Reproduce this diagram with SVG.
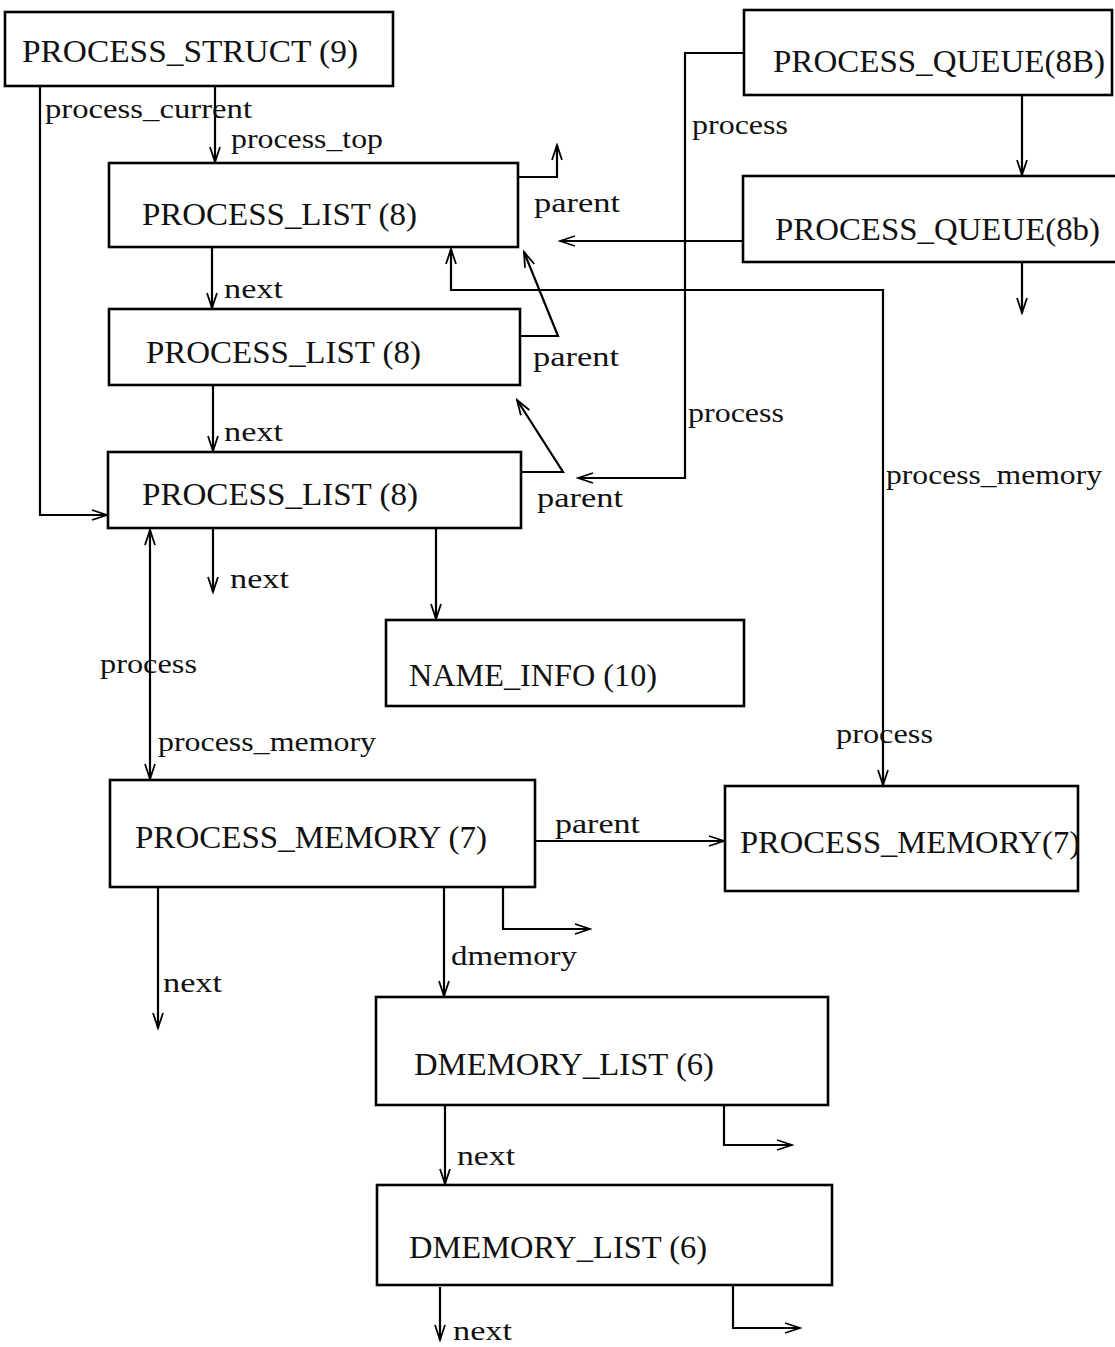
<svg xmlns="http://www.w3.org/2000/svg" width="1115" height="1347" viewBox="0 0 1115 1347">
<style>
.box{fill:#fff;stroke:#000;stroke-width:2.6}
.t{font-family:"Liberation Serif","Times New Roman",serif;font-size:31px;fill:#111}
.l{font-family:"Liberation Serif","Times New Roman",serif;font-size:28px;fill:#111}
.c{fill:none;stroke:#000;stroke-width:2.2}
</style>
<defs>
<marker id="ah" markerUnits="userSpaceOnUse" markerWidth="18" markerHeight="14" refX="16" refY="7" orient="auto-start-reverse">
<path d="M1,2 L16,7 L1,12" fill="none" stroke="#000" stroke-width="1.8"/>
</marker>
</defs>
<rect width="1115" height="1347" fill="#fff"/>
<g id="connectors">
<path class="c" d="M215,86 V162" marker-end="url(#ah)"/>
<path class="c" d="M40,86 V515 H107" marker-end="url(#ah)"/>
<path class="c" d="M212,247 V308" marker-end="url(#ah)"/>
<path class="c" d="M213,385 V451" marker-end="url(#ah)"/>
<path class="c" d="M213,528 V592" marker-end="url(#ah)"/>
<path class="c" d="M518,177 H557 V145" marker-end="url(#ah)"/>
<path class="c" d="M520,336 H558 L524,252" marker-end="url(#ah)"/>
<path class="c" d="M521,472 H563 L517,400" marker-end="url(#ah)"/>
<path class="c" d="M744,53 H685 V478 H578" marker-end="url(#ah)"/>
<path class="c" d="M743,241 H560" marker-end="url(#ah)"/>
<path class="c" d="M1022,95 V175" marker-end="url(#ah)"/>
<path class="c" d="M1022,262 V313" marker-end="url(#ah)"/>
<path class="c" d="M451,249 V290 H883 V785" marker-start="url(#ah)" marker-end="url(#ah)"/>
<path class="c" d="M150,530 V779" marker-start="url(#ah)" marker-end="url(#ah)"/>
<path class="c" d="M436,528 V619" marker-end="url(#ah)"/>
<path class="c" d="M535,841 H724" marker-end="url(#ah)"/>
<path class="c" d="M158,887 V1028" marker-end="url(#ah)"/>
<path class="c" d="M444,887 V996" marker-end="url(#ah)"/>
<path class="c" d="M503,887 V929 H590" marker-end="url(#ah)"/>
<path class="c" d="M445,1105 V1184" marker-end="url(#ah)"/>
<path class="c" d="M724,1105 V1145 H792" marker-end="url(#ah)"/>
<path class="c" d="M440,1287 V1340" marker-end="url(#ah)"/>
<path class="c" d="M733,1285 V1328 H800" marker-end="url(#ah)"/>
<text class="l" x="45" y="118" textLength="207" lengthAdjust="spacingAndGlyphs">process_current</text>
<text class="l" x="231" y="148" textLength="152" lengthAdjust="spacingAndGlyphs">process_top</text>
<text class="l" x="534" y="212" textLength="86" lengthAdjust="spacingAndGlyphs">parent</text>
<text class="l" x="692" y="134" textLength="96" lengthAdjust="spacingAndGlyphs">process</text>
<text class="l" x="224" y="298" textLength="59" lengthAdjust="spacingAndGlyphs">next</text>
<text class="l" x="533" y="366" textLength="86" lengthAdjust="spacingAndGlyphs">parent</text>
<text class="l" x="688" y="422" textLength="96" lengthAdjust="spacingAndGlyphs">process</text>
<text class="l" x="224" y="441" textLength="59" lengthAdjust="spacingAndGlyphs">next</text>
<text class="l" x="886" y="484" textLength="216" lengthAdjust="spacingAndGlyphs">process_memory</text>
<text class="l" x="537" y="507" textLength="86" lengthAdjust="spacingAndGlyphs">parent</text>
<text class="l" x="230" y="588" textLength="59" lengthAdjust="spacingAndGlyphs">next</text>
<text class="l" x="100" y="673" textLength="97" lengthAdjust="spacingAndGlyphs">process</text>
<text class="l" x="158" y="751" textLength="218" lengthAdjust="spacingAndGlyphs">process_memory</text>
<text class="l" x="836" y="743" textLength="97" lengthAdjust="spacingAndGlyphs">process</text>
<text class="l" x="555" y="833" textLength="85" lengthAdjust="spacingAndGlyphs">parent</text>
<text class="l" x="451" y="965" textLength="126" lengthAdjust="spacingAndGlyphs">dmemory</text>
<text class="l" x="163" y="992" textLength="59" lengthAdjust="spacingAndGlyphs">next</text>
<text class="l" x="457" y="1165" textLength="58" lengthAdjust="spacingAndGlyphs">next</text>
<text class="l" x="453" y="1340" textLength="59" lengthAdjust="spacingAndGlyphs">next</text>
</g>
<g id="process_struct"><rect class="box" x="5" y="12" width="388" height="74"/><text class="t" x="22" y="62" textLength="336" lengthAdjust="spacingAndGlyphs">PROCESS_STRUCT (9)</text></g>
<g id="process_queue_8B"><rect class="box" x="744" y="10" width="368" height="85"/><text class="t" x="773" y="72" textLength="332" lengthAdjust="spacingAndGlyphs">PROCESS_QUEUE(8B)</text></g>
<g id="process_queue_8b"><rect class="box" x="743" y="176" width="374" height="86"/><text class="t" x="775" y="240" textLength="325" lengthAdjust="spacingAndGlyphs">PROCESS_QUEUE(8b)</text></g>
<g id="process_list_1"><rect class="box" x="109" y="163" width="409" height="84"/><text class="t" x="142" y="225" textLength="275" lengthAdjust="spacingAndGlyphs">PROCESS_LIST (8)</text></g>
<g id="process_list_2"><rect class="box" x="109" y="309" width="411" height="76"/><text class="t" x="146" y="363" textLength="275" lengthAdjust="spacingAndGlyphs">PROCESS_LIST (8)</text></g>
<g id="process_list_3"><rect class="box" x="108" y="452" width="413" height="76"/><text class="t" x="142" y="505" textLength="276" lengthAdjust="spacingAndGlyphs">PROCESS_LIST (8)</text></g>
<g id="name_info"><rect class="box" x="386" y="620" width="358" height="86"/><text class="t" x="409" y="686" textLength="248" lengthAdjust="spacingAndGlyphs">NAME_INFO (10)</text></g>
<g id="process_memory_1"><rect class="box" x="110" y="780" width="425" height="107"/><text class="t" x="135" y="848" textLength="352" lengthAdjust="spacingAndGlyphs">PROCESS_MEMORY (7)</text></g>
<g id="process_memory_2"><rect class="box" x="725" y="786" width="353" height="105"/><text class="t" x="740" y="853" textLength="340" lengthAdjust="spacingAndGlyphs">PROCESS_MEMORY(7)</text></g>
<g id="dmemory_list_1"><rect class="box" x="376" y="997" width="452" height="108"/><text class="t" x="414" y="1075" textLength="300" lengthAdjust="spacingAndGlyphs">DMEMORY_LIST (6)</text></g>
<g id="dmemory_list_2"><rect class="box" x="377" y="1185" width="455" height="100"/><text class="t" x="409" y="1258" textLength="298" lengthAdjust="spacingAndGlyphs">DMEMORY_LIST (6)</text></g>
</svg>
